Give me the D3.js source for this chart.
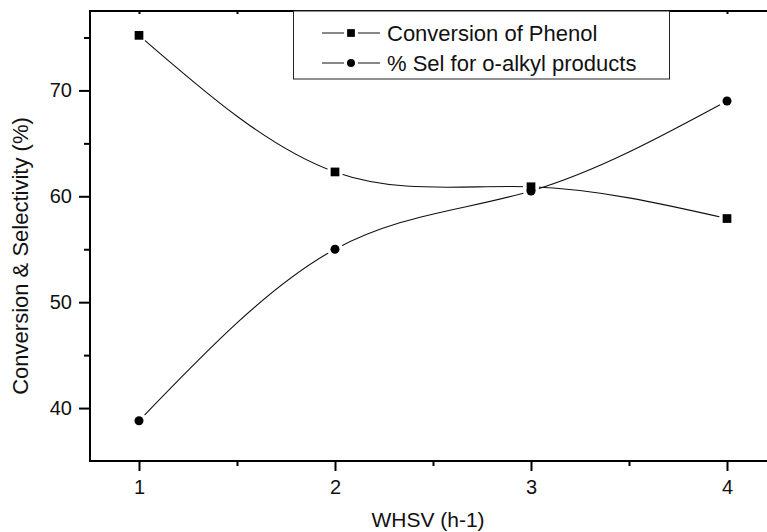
<!DOCTYPE html>
<html>
<head>
<meta charset="utf-8">
<script src="https://cdn.jsdelivr.net/npm/d3@7"></script>
<style>
  body { margin: 0; background: #fff; }
  svg { display: block; font-family: "Liberation Sans", Arial, sans-serif; }
  .axis text { font-size: 20px; fill: #111; }
  .axis line { stroke: #000; stroke-width: 2; }
  .title { font-size: 21px; fill: #111; }
  .legend text { font-size: 22px; fill: #111; }
</style>
</head>
<body>
<svg id="chart"></svg>
<script>
// values
const whsv = [1, 2, 3, 4]
const conversion = [75.2, 62.3, 60.9, 57.9]
const selectivity = [38.8, 55.0, 60.5, 69.0]
const xMajor = [1, 2, 3, 4]
const xMinor = [1.5, 2.5, 3.5]
const yMajor = [40, 50, 60, 70]
const yMinor = [45, 55, 65, 75]
const seriesNames = ['Conversion of Phenol', '% Sel for o-alkyl products']

const width = 767, height = 532
const margin = { top: 11, left: 90, bottom: 71, right: -9 }

const svg = d3.select('#chart').attr('width', width).attr('height', height)

const x = d3.scaleLinear().domain([0.75, 4.25]).range([margin.left, width - margin.right])
const y = d3.scaleLinear().domain([35, 77.5]).range([height - margin.bottom, margin.top])

const series = [
  { name: seriesNames[0], values: conversion, shape: d3.symbolSquare },
  { name: seriesNames[1], values: selectivity, shape: d3.symbolCircle }
]

// curves
const line = d3.line()
  .x(d => x(d[0]))
  .y(d => y(d[1]))
  .curve(d3.curveNatural)

svg.append('g')
  .selectAll('path')
  .data(series)
  .enter().append('path')
  .attr('fill', 'none')
  .attr('stroke', '#111')
  .attr('stroke-width', 1.1)
  .attr('d', s => line(whsv.map((w, i) => [w, s.values[i]])))

// white gap round each marker, then the markers
const points = series.flatMap(s => whsv.map((w, i) => ({ x: w, y: s.values[i], shape: s.shape })))
svg.append('g')
  .selectAll('circle')
  .data(points)
  .enter().append('circle')
  .attr('cx', d => x(d.x))
  .attr('cy', d => y(d.y))
  .attr('r', 8)
  .attr('fill', '#fff')

svg.append('g')
  .selectAll('path')
  .data(points.slice().reverse())
  .enter().append('path')
  .attr('transform', d => `translate(${x(d.x)},${y(d.y)})`)
  .attr('d', d => d3.symbol().type(d.shape).size(d.shape === d3.symbolSquare ? 76 : 64)())
  .attr('fill', '#000')

// axes
const bottom = y.range()[0], left = x.range()[0]
function noDomain(g) { g.select('.domain').remove() }

svg.append('g').attr('class', 'axis')
  .attr('transform', `translate(0,${bottom})`)
  .call(d3.axisBottom(x).tickValues(xMajor).tickSize(10).tickPadding(9).tickFormat(d3.format('d')))
  .call(noDomain)
svg.append('g').attr('class', 'axis')
  .attr('transform', `translate(0,${bottom})`)
  .call(d3.axisBottom(x).tickValues(xMinor).tickSize(5).tickFormat(''))
  .call(noDomain)
svg.append('g').attr('class', 'axis')
  .attr('transform', `translate(0,${margin.top})`)
  .call(d3.axisBottom(x).tickValues(xMajor.concat(xMinor)).tickSize(3).tickFormat(''))
  .call(noDomain)

svg.append('g').attr('class', 'axis')
  .attr('transform', `translate(${left},0)`)
  .call(d3.axisLeft(y).tickValues(yMajor).tickSize(11).tickPadding(7))
  .call(noDomain)
svg.append('g').attr('class', 'axis')
  .attr('transform', `translate(${left},0)`)
  .call(d3.axisLeft(y).tickValues(yMinor).tickSize(6).tickFormat(''))
  .call(noDomain)

// frame (right side falls outside the window)
svg.append('path')
  .attr('fill', 'none')
  .attr('stroke', '#000')
  .attr('stroke-width', 2)
  .attr('d', `M${width + 20},${margin.top}H${left}V${bottom}H${width + 20}`)

// titles
svg.append('text').attr('class', 'title')
  .attr('x', 428)
  .attr('y', 527)
  .attr('text-anchor', 'middle')
  .text('WHSV (h-1)')

svg.append('text').attr('class', 'title')
  .attr('transform', 'rotate(-90)')
  .attr('x', -256)
  .attr('y', 28)
  .attr('text-anchor', 'middle')
  .style('font-size', '22px')
  .text('Conversion & Selectivity (%)')

// legend
const legend = svg.append('g').attr('class', 'legend')
legend.append('rect')
  .attr('x', 293.5).attr('y', margin.top)
  .attr('width', 376).attr('height', 68)
  .attr('fill', '#fff')
  .attr('stroke', '#222')
  .attr('stroke-width', 1)

const rows = legend.selectAll('.row')
  .data(series)
  .enter().append('g')
  .attr('class', 'row')
  .attr('transform', (d, i) => `translate(0,${33 + i * 30})`)
rows.append('line').attr('x1', 322).attr('x2', 344).attr('stroke', '#111')
rows.append('line').attr('x1', 358).attr('x2', 380).attr('stroke', '#111')
rows.append('path')
  .attr('transform', 'translate(351,0)')
  .attr('d', d => d3.symbol().type(d.shape).size(d.shape === d3.symbolSquare ? 60 : 50)())
rows.append('text')
  .attr('x', 387)
  .attr('dy', '0.36em')
  .text(d => d.name)
</script>
</body>
</html>
